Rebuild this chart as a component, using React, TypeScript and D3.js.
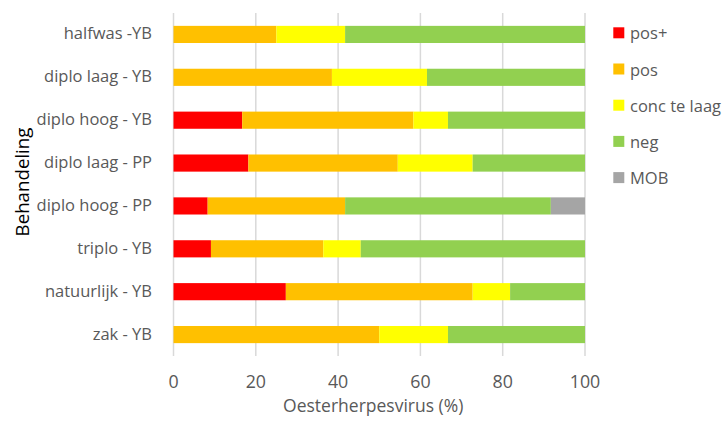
import React from "react";
import * as d3 from "d3";

const categories = [
  "halfwas -YB",
  "diplo laag - YB",
  "diplo hoog - YB",
  "diplo laag - PP",
  "diplo hoog - PP",
  "triplo - YB",
  "natuurlijk - YB",
  "zak - YB",
];
const seriesNames = ["pos+", "pos", "conc te laag", "neg", "MOB"];
const seriesColors = ["#FF0000", "#FFC000", "#FFFF00", "#92D050", "#A5A5A5"];
const posPlus = [0, 0, 16.7, 18.2, 8.3, 9.1, 27.3, 0];
const pos = [25, 38.5, 41.6, 36.3, 33.4, 27.3, 45.4, 50];
const concTeLaag = [16.7, 23.1, 8.4, 18.2, 0, 9.1, 9.1, 16.7];
const neg = [58.3, 38.4, 33.3, 27.3, 50, 54.5, 18.2, 33.3];
const mob = [0, 0, 0, 0, 8.3, 0, 0, 0];
const xTicks = [0, 20, 40, 60, 80, 100];

const W = 723;
const H = 423;
const FONT = "'Open Sans', 'Noto Sans', sans-serif";
const TXT = "#595959";

export default function App() {
  const left = 173.5, right = 585, top = 13, bottom = 356;
  const x = d3.scaleLinear().domain([0, 100]).range([left, right]);
  const y = d3.scaleBand<string>().domain(categories).range([top, bottom]).paddingInner(0.6).paddingOuter(0.3);
  const rows = categories.map((c, i) => ({
    cat: c,
    "pos+": posPlus[i],
    pos: pos[i],
    "conc te laag": concTeLaag[i],
    neg: neg[i],
    MOB: mob[i],
  }));
  const stack = d3.stack<any>().keys(seriesNames)(rows);
  const legendY = seriesNames.map((_, i) => 32.8 + i * 36.2);

  return (
    <svg width={W} height={H} style={{ position: "absolute", left: 0, top: 0, background: "#fff" }} fontFamily={FONT}>
      {xTicks.map((t) => (
        <line key={t} x1={x(t)} x2={x(t)} y1={top} y2={bottom} stroke="#D9D9D9" strokeWidth={1.5} />
      ))}
      {stack.map((s, si) =>
        s.map((d, i) => (
          d[1] - d[0] > 0 ? (
            <rect
              key={si + "-" + i}
              x={x(d[0])}
              y={y(categories[i])}
              width={x(d[1]) - x(d[0])}
              height={y.bandwidth()}
              fill={seriesColors[si]}
            />
          ) : null
        ))
      )}
      {categories.map((c) => (
        <text key={c} x={152} y={(y(c) as number) + y.bandwidth() / 2 + 5} textAnchor="end" fontSize={16.5} fill={TXT}>
          {c}
        </text>
      ))}
      {xTicks.map((t) => (
        <text key={t} x={x(t)} y={381} textAnchor="middle" dominantBaseline="central" fontSize={17.8} fill={TXT}>
          {t}
        </text>
      ))}
      <text x={(left + right) / 2 - 6} y={412} textAnchor="middle" fontSize={17.5} fill={TXT}>
        Oesterherpesvirus (%)
      </text>
      <text transform={`translate(21, 182) rotate(-90)`} textAnchor="middle" dominantBaseline="central" fontSize={18.7} fill="#000">
        Behandeling
      </text>
      {seriesNames.map((n, i) => (
        <g key={n}>
          <rect x={613.3} y={legendY[i] - 5.5} width={11} height={11} fill={seriesColors[i]} />
          <text x={630} y={legendY[i]} dominantBaseline="central" fontSize={16.5} fill={TXT}>
            {n}
          </text>
        </g>
      ))}
    </svg>
  );
}
